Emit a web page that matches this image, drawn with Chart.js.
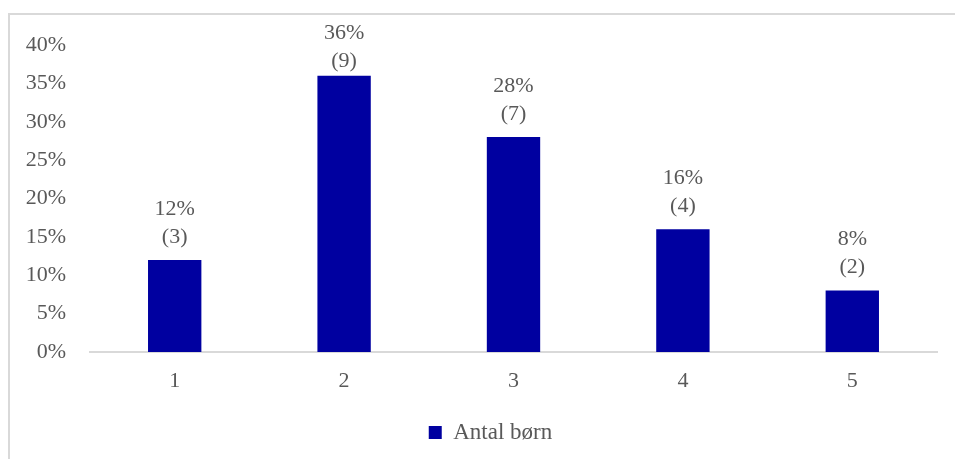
<!DOCTYPE html>
<html>
<head>
<meta charset="utf-8">
<script src="https://cdn.jsdelivr.net/npm/chart.js@4/dist/chart.umd.min.js"></script>
<style>
  html, body { margin: 0; padding: 0; background: #fff; }
  #wrap { position: relative; width: 955px; height: 459px; }
  #frame { position: absolute; left: 8px; top: 13px; right: 0; bottom: 0;
           border-left: 2px solid #d9d9d9; border-top: 2px solid #d9d9d9; }
  canvas { position: absolute; left: 0; top: 0; }
</style>
</head>
<body>
<div id="wrap">
  <div id="frame"></div>
  <canvas id="graph" width="955" height="459"></canvas>
</div>
<script>
var categories = ['1', '2', '3', '4', '5'];
var shares = [0.12, 0.36, 0.28, 0.16, 0.08];
var counts = [3, 9, 7, 4, 2];
var seriesName = 'Antal børn';

var textColor = '#595959';
var fontFamily = "'Liberation Serif', 'Times New Roman', serif";
var fontSize = 22;

// two-line value label above each bar: "12%" and "(3)"
var barLabels = {
    id: 'barLabels',
    afterDatasetsDraw: function (chart) {
        var ctx = chart.ctx;
        var meta = chart.getDatasetMeta(0);
        ctx.save();
        ctx.font = fontSize + 'px ' + fontFamily;
        ctx.fillStyle = textColor;
        ctx.textAlign = 'center';
        ctx.textBaseline = 'middle';
        meta.data.forEach(function (bar, i) {
            var top = Math.max(bar.y - 51, 33);
            ctx.fillText(Math.round(shares[i] * 100) + '%', bar.x, top);
            ctx.fillText('(' + counts[i] + ')', bar.x, top + 28);
        });
        ctx.restore();
    }
};

// the legend sits a bit right of the canvas centre
var legendShift = {
    id: 'legendShift',
    afterLayout: function (chart) {
        chart.legend.left += 22;
        chart.legend.right += 22;
    }
};

var ctx = document.getElementById('graph').getContext('2d');

var data = {
    labels: categories,
    datasets: [{
        label: seriesName,
        data: shares,
        backgroundColor: '#0000a0',
        borderWidth: 0,
        categoryPercentage: 1,
        barPercentage: 0.315
    }]
};

var options = {
    responsive: false,
    animation: false,
    layout: { padding: { left: 0, right: 18, top: 45, bottom: 5 } },
    plugins: {
        legend: {
            position: 'bottom',
            labels: {
                color: textColor,
                font: { family: fontFamily, size: 23 },
                boxWidth: 13,
                boxHeight: 13,
                padding: 10
            }
        },
        tooltip: { enabled: false }
    },
    scales: {
        x: {
            grid: { display: false },
            border: { display: true, color: '#d9d9d9', width: 2 },
            ticks: { color: textColor, font: { family: fontFamily, size: fontSize }, padding: 8 },
            afterFit: function (scale) { scale.height = 59; }
        },
        y: {
            min: 0,
            max: 0.4,
            grid: { display: false },
            border: { display: false },
            ticks: {
                stepSize: 0.05,
                color: textColor,
                font: { family: fontFamily, size: fontSize },
                padding: 16,
                callback: function (v) { return Math.round(v * 100) + '%'; }
            },
            afterFit: function (scale) { scale.width = 90; }
        }
    }
};

var graph1 = new Chart(ctx, { type: 'bar', data: data, options: options, plugins: [barLabels, legendShift] });
</script>
</body>
</html>
